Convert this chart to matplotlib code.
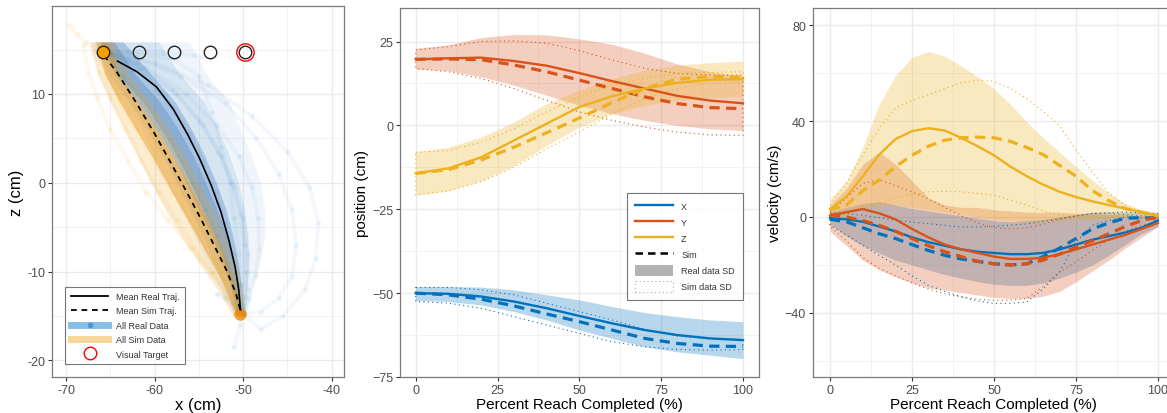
import matplotlib
matplotlib.use("Agg")
import matplotlib.pyplot as plt
from matplotlib.lines import Line2D
from matplotlib.patches import Patch

plt.rcParams["font.family"] = ["Liberation Sans", "DejaVu Sans"]

# ---------------- panel 1: x-z trajectories ----------------
mean_real_x = [-64.2, -62.0, -59.8, -57.9, -56.3, -54.9, -53.6, -52.5, -51.6, -50.9, -50.5, -50.3]
mean_real_z = [13.7, 12.5, 10.8, 8.3, 5.5, 2.7, -0.3, -3.3, -6.5, -9.5, -12.0, -14.3]
mean_sim_x = [-65.7, -64.3, -62.2, -60.1, -58.2, -56.4, -54.8, -53.3, -51.9, -50.8, -50.3]
mean_sim_z = [14.3, 12.5, 9.2, 5.7, 2.3, -1.0, -4.0, -7.0, -9.8, -12.5, -14.4]

target_x = [-65.8, -61.8, -57.8, -53.8, -49.8]
target_z = [14.7, 14.7, 14.7, 14.7, 14.7]
visual_target = (-49.8, 14.7)

# a handful of single reaches (real)
real_trials = [
    ([-65.8, -62, -57, -52, -48.5, -46, -44.5, -44, -44.5, -46, -48, -50],
     [14.7, 14, 12, 9, 5, 1, -3, -7, -10.5, -13, -14.5, -14.8]),
    ([-65.8, -61, -56.5, -53, -50.5, -49, -48.3, -48.2, -48.6, -49.3, -50],
     [14.7, 13, 10, 6.5, 3, -0.5, -4, -7.5, -10.5, -13, -14.8]),
    ([-65.5, -62, -58, -55, -52.8, -51.3, -50.3, -49.8, -49.7, -49.8, -50],
     [14.7, 13.5, 10.5, 7, 3.5, 0, -3.5, -7, -10, -12.8, -14.8]),
    ([-65.8, -63.5, -61.5, -59.5, -57.5, -55.8, -54.3, -53, -51.8, -50.8, -50],
     [14.7, 12, 9, 6, 3, 0, -3, -6, -9, -12, -14.8]),
    ([-65.8, -62, -58, -55, -53.5, -52.5, -51.5, -51, -50.5, -50.2, -50],
     [14.7, 14.5, 14, 12, 8, 4, 0, -4, -8, -11.5, -14.8]),
    ([-65.8, -60, -54, -49, -45, -42.5, -41.5, -41.8, -43, -45.5, -48, -50],
     [14.7, 13.5, 11, 7.5, 3.5, -0.5, -4.5, -8.5, -12, -15, -16.5, -14.8]),
    ([-65.8, -61.5, -57.5, -54.5, -52.5, -51, -50, -49.5, -49.5, -50.3, -51, -50],
     [14.7, 12.8, 10, 6.5, 3, -0.5, -4, -8, -12, -16, -18.5, -14.8]),
    ([-65.8, -63, -60.5, -58, -56, -54.5, -53, -52, -51, -50.4, -50],
     [14.7, 13.8, 11.5, 8.5, 5.5, 2.5, -1, -4.5, -8, -11.5, -14.8]),
    ([-65.8, -63, -59, -55.5, -54.8], [14.7, 14.8, 14.6, 14.4, 14.2]),
    ([-53, -52, -51.3, -50.5], [-12.5, -13, -13.5, -14.5]),
]
# single reaches (simulated)
sim_trials = [
    ([-66.5, -65.5, -64, -62, -60, -58, -56, -54.3, -52.7, -51.3, -50.3],
     [14.7, 12.5, 9.5, 6, 2.5, -1, -4.2, -7.3, -10.2, -12.8, -14.8]),
    ([-67, -66.3, -65, -63.3, -61.5, -59.5, -57.5, -55.5, -53.5, -51.8, -50.5],
     [14.7, 12.5, 9.5, 6, 2.5, -1, -4.2, -7.3, -10.2, -12.8, -14.8]),
    ([-65.5, -63.5, -61.3, -59, -57, -55.3, -53.7, -52.3, -51.2, -50.5, -50.1],
     [14.7, 12.5, 9.5, 6, 2.5, -1, -4.2, -7.3, -10.2, -12.8, -14.8]),
    ([-68, -67.5, -66.5, -65, -63, -61, -58.5, -56, -53.5, -51.5, -50.2],
     [15.5, 12.5, 9.5, 6, 2.5, -1, -4.2, -7.3, -10.2, -12.8, -14.8]),
    ([-69.7, -68.8, -67.8, -66.8, -65.8], [17.8, 16.8, 15.9, 15.2, 14.7]),
]

# density envelopes of all samples: z levels and left/right edges
env_z = [15.8, 12, 9, 6, 3, 0, -3, -6, -9, -12, -15]
real_outer_l = [-67.2, -65.5, -63.5, -61.5, -60, -58.5, -57, -55.5, -54, -52.5, -51]
real_outer_r = [-56, -54, -51.5, -50.3, -49, -48, -47.5, -47.5, -48, -49, -49.5]
real_mid_l = [-66.8, -65, -62.8, -60.8, -59, -57.5, -56, -54.5, -53.2, -52, -50.9]
real_mid_r = [-59.5, -57, -54.3, -52.8, -51.5, -50.5, -49.8, -49.4, -49.3, -49.5, -49.7]
real_inner_l = [-66.3, -64.3, -61.8, -59.8, -57.9, -56.4, -55, -53.5, -52.3, -51.3, -50.7]
real_inner_r = [-63.5, -60.2, -57.6, -55.8, -54.3, -53, -51.9, -51.1, -50.5, -50.1, -49.9]
real_core_l = [-66, -64, -61.2, -59.2, -57.4, -55.9, -54.5, -53.1, -52, -51.1, -50.6]
real_core_r = [-64.5, -62, -59.3, -57.3, -55.6, -54.2, -52.9, -51.8, -51, -50.4, -50.1]
sim_outer_l = [-67.3, -66.3, -64.9, -63.4, -61.9, -60.4, -58.8, -57, -55, -52.9, -51.2]
sim_outer_r = [-64.5, -62.8, -60.5, -58.4, -56.5, -54.9, -53.3, -51.9, -50.7, -50, -49.6]
sim_inner_l = [-66.6, -65.5, -63.9, -62.1, -60.3, -58.6, -56.9, -55.2, -53.5, -51.9, -50.7]
sim_inner_r = [-65.2, -63.9, -61.8, -59.8, -57.9, -56.2, -54.6, -53.1, -51.8, -50.7, -50.1]

# ---------------- panels 2 & 3: time courses ----------------
pct_pos = [0, 10, 20, 30, 40, 50, 60, 70, 80, 90, 100]

pos_x_real = [-50, -50.2, -51, -52.5, -54.5, -56.8, -59, -61, -62.5, -63.5, -64]
pos_x_sim = [-50, -50.5, -51.8, -53.8, -56.2, -58.5, -61, -63.5, -65, -65.8, -65.9]
pos_x_up = [-48, -48, -48.2, -49, -50.5, -52, -54, -55.8, -57, -58, -58.5]
pos_x_lo = [-52.2, -52.5, -53.5, -55.5, -58, -61, -63.5, -66, -67.5, -68.5, -69.5]
pos_x_sim_up = [-48.3, -48.3, -49, -50.5, -53, -55.5, -58, -60.8, -62.8, -63.5, -63.8]
pos_x_sim_lo = [-52.5, -53, -54.5, -57, -59.5, -62, -64.5, -66, -66.8, -67, -66.8]

pos_y_real = [19.7, 20.0, 20.2, 19.2, 17.8, 15.6, 13.2, 11.0, 8.8, 7.4, 6.6]
pos_y_sim = [19.7, 19.8, 19.6, 18.0, 16.0, 13.5, 11.0, 8.5, 6.5, 5.3, 5.0]
pos_y_up = [23, 24, 26.2, 27.1, 27, 25.8, 24.2, 21.5, 18.3, 16, 14.6]
pos_y_lo = [16.8, 16.3, 14.5, 12, 9, 6, 3.5, 1.5, 0, -1, -1.5]
pos_y_sim_up = [22.5, 23.5, 25, 25.2, 24.5, 22.3, 19.5, 17, 15.5, 15, 15]
pos_y_sim_lo = [17, 16, 14, 11, 7.5, 4, 1.5, -0.5, -2, -2.8, -3]

pos_z_real = [-14.3, -12.8, -9.5, -4.5, 0.5, 5.5, 8.7, 11.0, 12.7, 13.6, 13.8]
pos_z_sim = [-14.3, -13.2, -10.3, -6.5, -2.2, 2.2, 6.8, 11.0, 13.8, 14.6, 14.4]
pos_z_up = [-7.8, -6.5, -3.5, 1, 6.5, 10.5, 14, 16.5, 18, 18.7, 19.2]
pos_z_lo = [-20.8, -19.5, -16.5, -12, -6, -0.5, 3.5, 6, 7.5, 8.3, 8.5]
pos_z_sim_up = [-8, -7.5, -5, -1, 4, 8.5, 12, 14, 15.5, 15.8, 16]
pos_z_sim_lo = [-20.8, -19.5, -16.8, -12.5, -7, -2, 3.5, 8, 11, 12.5, 13]

pct_vel = [0, 5, 10, 15, 20, 25, 30, 35, 40, 45, 50, 55, 60, 65, 70, 75, 80, 85, 90, 95, 100]

vel_x_real = [-0.5, -1, -2, -4, -6, -8.5, -10.5, -12, -13.5, -14.5, -15, -15.5, -15.5, -15, -13.5, -11.5, -9.5, -8, -6.5, -4.5, -1.5]
vel_x_sim = [-1, -2, -4.5, -7, -9, -11.5, -14, -16, -17.5, -18.5, -19.5, -20, -19.5, -16.5, -13, -9, -5, -2.5, -0.5, -0.3, -0.5]
vel_x_up = [2, 4, 5.5, 6.5, 5, 3.5, 2.5, 1.5, 0.5, -0.5, -1.5, -2, -1.5, -1, 0, 1, 2, 2, 2, 2, 1.5]
vel_x_lo = [-3, -8, -12, -15, -18, -20, -22, -24, -25.5, -27, -28, -28.5, -28.5, -27.5, -25.5, -23, -20, -16, -11.5, -7, -4]
vel_x_sim_up = [2, 1.3, 0.7, -0.3, -1.4, -2.1, -2.8, -3.5, -4.2, -4.2, -3.9, -3.4, -2.9, -1.8, -0.7, 0.4, 1.4, 1.8, 2, 1.7, 1.4]
vel_x_sim_lo = [-3.5, -7.5, -11.8, -16, -20, -24.5, -28.5, -31, -33.3, -35, -36, -36, -35.4, -30, -23, -10.4, -3.5, -1.5, 0, -0.4, -0.7]

vel_y_real = [0.5, 2, 3.3, 1.5, -1, -5, -8.5, -11.5, -13.5, -15, -16.5, -17.5, -17.5, -17, -15.5, -13.5, -11.5, -9.5, -7.5, -5, -2.5]
vel_y_sim = [1, 0, -1.5, -3.5, -6, -9, -12, -14.5, -16.5, -18.5, -19.5, -20, -19.5, -18, -15.5, -12.5, -10, -7, -4, -1.5, 0]
vel_y_up = [5, 12, 22, 27, 22, 15, 8, 5, 4, 4, 3, 2.5, 2, 2, 2, 1.5, 1.5, 1, 1, 0.5, 0]
vel_y_lo = [-6, -12, -18, -22, -25, -27.5, -29.5, -30.5, -31.5, -32.5, -33.5, -34, -34, -33, -31, -27, -22.5, -18, -13, -8.5, -4]
vel_y_sim_up = [2, 8, 14, 15.5, 13, 10.5, 7.5, 4, 0.5, -2.5, -4.5, -5, -4.5, -3, -1, 0.5, 1.5, 1.5, 1, 0.5, 0]
vel_y_sim_lo = [-4, -10, -17, -21.5, -24.5, -27.5, -30, -32, -33.3, -34.3, -34.7, -34.7, -34, -29, -23, -18.7, -14, -9.5, -6, -3.5, -2]

vel_z_real = [3.2, 8.5, 17, 26, 32.5, 35.8, 37, 36, 33, 29.5, 25.7, 21, 17, 13.5, 10.5, 8.3, 6.5, 5, 3.5, 2, 0.5]
vel_z_sim = [3, 5, 11, 15.3, 21, 25.7, 29.5, 32, 33, 33.3, 33, 31.5, 29, 26, 21.5, 17, 11, 6.8, 3.5, 2, 0.5]
vel_z_up = [7.5, 15, 29, 47, 59, 66.5, 69, 67, 63, 58.5, 53.5, 47, 39.6, 33, 27, 21, 15.3, 10, 5.5, 3, 2]
vel_z_lo = [-1, 1, 4, 5, 5, 4, 3, 2, 1, 0, -1, -1.5, -2, -2, -1.5, -1, -1, -0.5, 0, 0, -0.5]
vel_z_sim_up = [5, 14, 26, 37, 45.5, 48.5, 51, 53.5, 56, 57, 56.5, 53.5, 49.3, 44, 38, 28, 18.7, 10, 5, 2.5, 0.7]
vel_z_sim_lo = [1.5, 2, 3, 5.5, 8, 9.5, 10.5, 10.7, 10.5, 9.8, 9, 7, 5, 2.5, 0.7, 0, 0, 0, 0, 0, 0.5]

C_X, C_Y, C_Z = "#0072BD", "#D95319", "#EDB120"
C_REAL, C_SIM = "#3a85c8", "#f2a51a"


def style(ax, xt, xl, yt, yl, xminor, yminor):
    ax.set_xticks(xt)
    ax.set_xticklabels(xl)
    ax.set_yticks(yt)
    ax.set_yticklabels(yl)
    ax.set_xticks(xminor, minor=True)
    ax.set_yticks(yminor, minor=True)
    ax.grid(True, which="major", color="#ebebeb", lw=1.0, zorder=0)
    ax.grid(True, which="minor", color="#f2f2f2", lw=0.7, zorder=0)
    ax.set_axisbelow(True)
    ax.tick_params(which="major", length=3, width=0.8, color="#333333",
                   labelsize=9, labelcolor="#4d4d4d", pad=2)
    ax.tick_params(which="minor", length=0)
    for s in ax.spines.values():
        s.set_color("#7a7a7a")
        s.set_linewidth(0.9)


fig = plt.figure(figsize=(11.67, 4.14), dpi=100)
W, H = 1167, 414
ax1 = fig.add_axes([52 / W, 36 / H, 292 / W, 371 / H])
ax2 = fig.add_axes([400 / W, 36 / H, 359 / W, 369 / H])
ax3 = fig.add_axes([813 / W, 36 / H, 361 / W, 369 / H])

# ---- panel 1 ----
for (l, r, c, a) in [(real_outer_l, real_outer_r, C_REAL, 0.08),
                     (real_mid_l, real_mid_r, C_REAL, 0.14),
                     (real_inner_l, real_inner_r, "#1f63ad", 0.24),
                     (real_core_l, real_core_r, "#1a5aa6", 0.22),
                     (sim_outer_l, sim_outer_r, C_SIM, 0.20),
                     (sim_inner_l, sim_inner_r, "#f09000", 0.40)]:
    ax1.fill(l + r[::-1], env_z + env_z[::-1], color=c, alpha=a, lw=0, zorder=1)
for tx, tz in real_trials:
    ax1.plot(tx, tz, color=C_REAL, lw=3, alpha=0.05, solid_capstyle="round", zorder=2)
    ax1.plot(tx, tz, "o", color=C_REAL, ms=3.5, alpha=0.08, mec="none", zorder=2)
for tx, tz in sim_trials:
    ax1.plot(tx, tz, color=C_SIM, lw=3, alpha=0.07, solid_capstyle="round", zorder=2)
    ax1.plot(tx, tz, "o", color=C_SIM, ms=3.5, alpha=0.08, mec="none", zorder=2)
ax1.plot(mean_real_x, mean_real_z, color="black", lw=1.2, zorder=5)
ax1.plot(mean_sim_x, mean_sim_z, color="black", lw=1.3, dashes=(3.0, 2.6), zorder=5)
ax1.plot(target_x[1:], target_z[1:], "o", ms=9, mfc="none", mec="#222222", mew=1.0, zorder=6)
ax1.plot(target_x[:1], target_z[:1], "o", ms=9, mfc="#f5a000", mec="#222222", mew=1.0, zorder=6)
ax1.plot(*visual_target, "o", ms=12.5, mfc="none", mec="red", mew=1.0, zorder=6)
ax1.plot(mean_sim_x[-1:], [-14.8], "o", ms=9, color="#ef8a00", alpha=0.8, mec="none", zorder=4)

ax1.set_xlim(-71.6, -38.6)
ax1.set_ylim(-21.86, 19.9)
style(ax1, [-70, -60, -50, -40], ["-70", "-60", "-50", "-40"],
      [-20, -10, 0, 10], ["-20", "-10", "0", "10"],
      [-65, -55, -45], [-15, -5, 5, 15])
ax1.set_xlabel("x (cm)", fontsize=12, labelpad=1)
ax1.set_ylabel("z (cm)", fontsize=12, labelpad=2)

h1 = [Line2D([], [], color="black", lw=1.3),
      Line2D([], [], color="black", lw=1.3, dashes=(3.2, 2.6)),
      Line2D([], [], color="#6aaee0", lw=5, alpha=0.8, marker="o", ms=4,
             mfc="#3d8fd0", mec="none", markevery=0.1),
      Line2D([], [], color="#f6d38e", lw=5, alpha=0.9),
      Line2D([], [], ls="none", marker="o", ms=9, mfc="none", mec="red", mew=1.0)]
l1 = ["Mean Real Traj.", "Mean Sim Traj.", "All Real Data", "All Sim Data", "Visual Target"]
leg1 = ax1.legend(h1, l1, loc="lower left", bbox_to_anchor=(0.045, 0.035),
                  borderaxespad=0, fontsize=6.5, frameon=True, fancybox=False,
                  handlelength=4.2, handletextpad=0.8, labelspacing=0.6,
                  borderpad=0.6)
leg1.get_frame().set_edgecolor("#555555")
leg1.get_frame().set_linewidth(0.8)
for t in leg1.get_texts():
    t.set_color("#333333")


def draw_band(ax, pct, up, lo, sup, slo, c):
    ax.fill_between(pct, lo, up, color=c, alpha=0.28, lw=0, zorder=1)
    ax.fill(pct + pct[::-1], sup + slo[::-1], facecolor="none", edgecolor=c,
            lw=0.8, ls=(0, (1, 3)), zorder=2)


def draw_lines(ax, pct, real, sim, c):
    ax.plot(pct, real, color=c, lw=1.7, zorder=4)
    ax.plot(pct, sim, color=c, lw=2.3, dashes=(3.2, 2.0), zorder=4)


# ---- panel 2 ----
series_pos = [(pos_x_real, pos_x_sim, pos_x_up, pos_x_lo, pos_x_sim_up, pos_x_sim_lo, C_X),
              (pos_y_real, pos_y_sim, pos_y_up, pos_y_lo, pos_y_sim_up, pos_y_sim_lo, C_Y),
              (pos_z_real, pos_z_sim, pos_z_up, pos_z_lo, pos_z_sim_up, pos_z_sim_lo, C_Z)]
for r, s, u, lo, su, sl, c in series_pos:
    draw_band(ax2, pct_pos, u, lo, su, sl, c)
for r, s, u, lo, su, sl, c in series_pos:
    draw_lines(ax2, pct_pos, r, s, c)
ax2.set_xlim(-4.8, 104.9)
ax2.set_ylim(-75, 35)
style(ax2, [0, 25, 50, 75, 100], ["0", "25", "50", "75", "100"],
      [-75, -50, -25, 0, 25], ["\u221275", "\u221250", "\u221225", "0", "25"],
      [12.5, 37.5, 62.5, 87.5], [-62.5, -37.5, -12.5, 12.5])
ax2.set_xlabel("Percent Reach Completed (%)", fontsize=11, labelpad=1)
ax2.set_ylabel("position (cm)", fontsize=11, labelpad=2)

h2 = [Line2D([], [], color=C_X, lw=1.7),
      Line2D([], [], color=C_Y, lw=1.7),
      Line2D([], [], color=C_Z, lw=1.7),
      Line2D([], [], color="black", lw=1.8, dashes=(3.0, 2.0)),
      Patch(facecolor="#b3b3b3", edgecolor="none"),
      Patch(facecolor="none", edgecolor="#aaaaaa", lw=0.8, ls=(0, (1, 2.5)))]
l2 = ["X", "Y", "Z", "Sim", "Real data SD", "Sim data SD"]
leg2 = ax2.legend(h2, l2, loc="upper left", bbox_to_anchor=(0.632, 0.499),
                  borderaxespad=0, fontsize=6.5, frameon=True, fancybox=False,
                  handlelength=4.2, handleheight=1.5, handletextpad=0.9,
                  labelspacing=0.55, borderpad=0.9)
leg2.get_frame().set_edgecolor("#555555")
leg2.get_frame().set_linewidth(0.8)
for t in leg2.get_texts():
    t.set_color("#333333")

# ---- panel 3 ----
series_vel = [(vel_x_real, vel_x_sim, vel_x_up, vel_x_lo, vel_x_sim_up, vel_x_sim_lo, C_X),
              (vel_y_real, vel_y_sim, vel_y_up, vel_y_lo, vel_y_sim_up, vel_y_sim_lo, C_Y),
              (vel_z_real, vel_z_sim, vel_z_up, vel_z_lo, vel_z_sim_up, vel_z_sim_lo, C_Z)]
for r, s, u, lo, su, sl, c in series_vel:
    draw_band(ax3, pct_vel, u, lo, su, sl, c)
for r, s, u, lo, su, sl, c in series_vel:
    draw_lines(ax3, pct_vel, r, s, c)
ax3.set_xlim(-5.2, 104.9)
ax3.set_ylim(-66.7, 87.1)
style(ax3, [0, 25, 50, 75, 100], ["0", "25", "50", "75", "100"],
      [-40, 0, 40, 80], ["\u221240", "0", "40", "80"],
      [12.5, 37.5, 62.5, 87.5], [-60, -20, 20, 60])
ax3.set_xlabel("Percent Reach Completed (%)", fontsize=11, labelpad=1)
ax3.set_ylabel("velocity (cm/s)", fontsize=11, labelpad=2)

fig.savefig("out.png", dpi=100)
